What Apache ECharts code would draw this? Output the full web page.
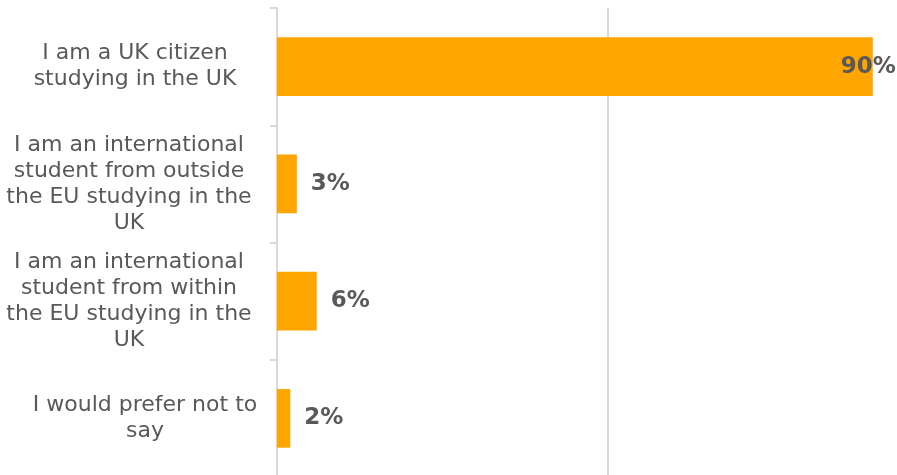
<!DOCTYPE html>
<html>
<head>
<meta charset="utf-8">
<style>
  html, body { margin: 0; padding: 0; background: #ffffff; }
  #chart { width: 897px; height: 475px; }
</style>
<script src="https://cdn.jsdelivr.net/npm/echarts@6/dist/echarts.min.js"></script>
</head>
<body>
<div id="chart"></div>
<script>
// Survey responses: residency status of students (share of respondents, %)
const categories = [
  'I am a UK citizen\nstudying in the UK',
  'I am an international\nstudent from outside\nthe EU studying in the\nUK',
  'I am an international\nstudent from within\nthe EU studying in the\nUK',
  'I would prefer not to\nsay'
];
const shares = [90, 3, 6, 2];
const xTicks = [0, 50, 100];

// horizontal nudges for the wrapped category labels (px of left padding)
const labelPad = [12, 0, 0, 32];

const textColor = '#595959';
const font = 'Verdana, "DejaVu Sans", sans-serif';

const chart = echarts.init(document.getElementById('chart'), null, { renderer: 'canvas' });

chart.setOption({
  animation: false,
  backgroundColor: '#ffffff',
  grid: {
    left: 277, right: -42, top: 8, bottom: -2,
    containLabel: false,
    outerBoundsMode: 'none'
  },
  xAxis: {
    type: 'value',
    min: xTicks[0],
    max: xTicks[xTicks.length - 1],
    interval: xTicks[1] - xTicks[0],
    axisLabel: { show: false },
    axisLine: { show: false },
    axisTick: { show: false },
    splitLine: { show: true, lineStyle: { color: '#d9d9d9', width: 2 } }
  },
  yAxis: {
    type: 'category',
    inverse: true,
    data: categories.map((c, i) => ({
      value: c,
      textStyle: { align: 'center', padding: [0, 0, 0, labelPad[i]] }
    })),
    axisLine: { show: true, lineStyle: { color: '#d9d9d9', width: 2 } },
    axisTick: { show: true, length: 7, lineStyle: { color: '#d9d9d9', width: 2 } },
    axisLabel: {
      margin: 148,
      align: 'center',
      color: textColor,
      fontFamily: font,
      fontSize: 22,
      lineHeight: 26
    },
    splitLine: { show: false }
  },
  series: [{
    type: 'bar',
    barWidth: '50%',
    itemStyle: { color: '#FFA500' },
    label: {
      show: true,
      position: 'right',
      distance: 14,
      color: textColor,
      fontFamily: font,
      fontWeight: 'bold',
      fontSize: 23,
      formatter: p => p.value + '%'
    },
    data: shares.map(v => v > 50
      ? { value: v, label: { position: 'insideRight', distance: 0, offset: [23, 0] } }
      : v)
  }]
});
</script>
</body>
</html>
